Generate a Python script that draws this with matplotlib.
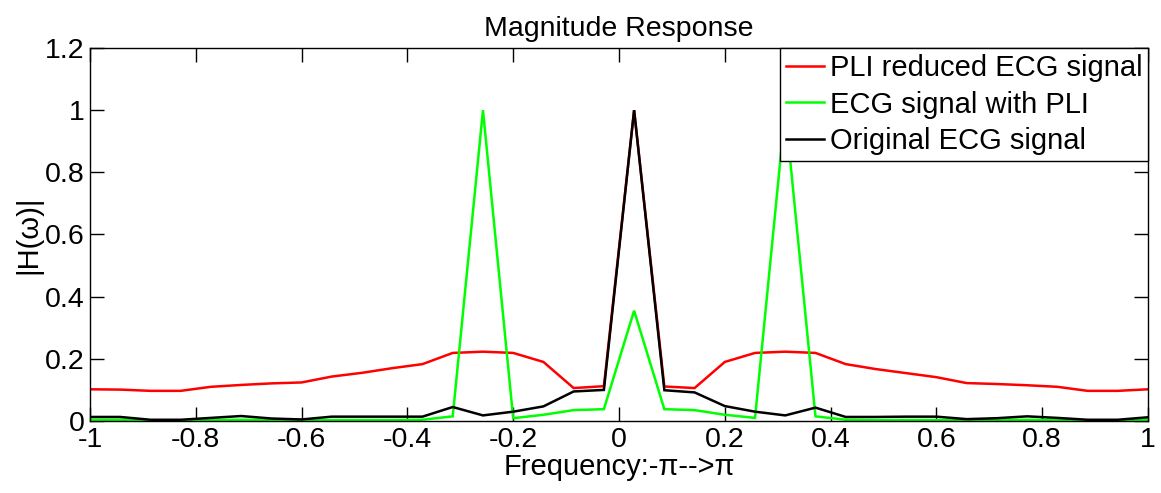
import numpy as np
import matplotlib
matplotlib.use("Agg")
import matplotlib.pyplot as plt

plt.rcParams['font.family'] = ['Liberation Sans', 'DejaVu Sans']

freq = np.linspace(-1, 1, 36)

pli_reduced = [0.102, 0.101, 0.097, 0.097, 0.110, 0.116, 0.121, 0.124, 0.143, 0.155,
               0.170, 0.183, 0.219, 0.223, 0.219, 0.190, 0.106, 0.112, 1.000, 0.111,
               0.106, 0.190, 0.219, 0.223, 0.219, 0.183, 0.167, 0.154, 0.141, 0.122,
               0.119, 0.115, 0.110, 0.097, 0.097, 0.102]

ecg_with_pli = [0.004, 0.004, 0.002, 0.002, 0.003, 0.004, 0.003, 0.002, 0.003, 0.003,
                0.003, 0.004, 0.015, 1.000, 0.009, 0.020, 0.035, 0.038, 0.355, 0.038,
                0.035, 0.020, 0.010, 1.000, 0.015, 0.004, 0.003, 0.003, 0.003, 0.002,
                0.003, 0.004, 0.003, 0.002, 0.002, 0.004]

original = [0.013, 0.013, 0.004, 0.004, 0.010, 0.016, 0.008, 0.005, 0.014, 0.014,
            0.014, 0.014, 0.045, 0.018, 0.030, 0.047, 0.095, 0.100, 1.000, 0.099,
            0.092, 0.048, 0.030, 0.018, 0.043, 0.013, 0.013, 0.014, 0.014, 0.006,
            0.009, 0.015, 0.010, 0.004, 0.004, 0.012]

labels = ['PLI reduced ECG signal', 'ECG signal with PLI', 'Original ECG signal']
colors = ['#ff0000', '#00ff00', '#000000']

xticks = [-1, -0.8, -0.6, -0.4, -0.2, 0, 0.2, 0.4, 0.6, 0.8, 1]
xticklabels = ['-1', '-0.8', '-0.6', '-0.4', '-0.2', '0', '0.2', '0.4', '0.6', '0.8', '1']
yticks = [0, 0.2, 0.4, 0.6, 0.8, 1.0, 1.2]
yticklabels = ['0', '0.2', '0.4', '0.6', '0.8', '1', '1.2']

fig = plt.figure(figsize=(11.61, 4.93), dpi=100)
ax = fig.add_axes([90/1161, 72/493, 1058/1161, 373/493])

for vals, lab, col in zip([pli_reduced, ecg_with_pli, original], labels, colors):
    ax.plot(freq, vals, color=col, lw=1.8, label=lab, solid_joinstyle='miter')

ax.set_xlim(-1, 1)
ax.set_ylim(0, 1.2)
ax.set_xticks(xticks)
ax.set_xticklabels(xticklabels)
ax.set_yticks(yticks)
ax.set_yticklabels(yticklabels)
ax.tick_params(direction='in', length=10, width=1, labelsize=20.5, top=True, right=True)
ax.tick_params(axis='x', pad=4)
ax.tick_params(axis='y', pad=4)
for s in ax.spines.values():
    s.set_linewidth(1)

ax.set_title('Magnitude Response', fontsize=20.5, pad=9)
ax.set_xlabel('Frequency:-\u03c0-->\u03c0', fontsize=21, labelpad=0)
ax.set_ylabel('|H(\u03c9)|', fontsize=21, labelpad=2)

leg = ax.legend(loc='upper right', borderaxespad=0, fancybox=False, framealpha=1,
                edgecolor='black', fontsize=21, handlelength=1.3, handletextpad=0.2,
                labelspacing=0.3, borderpad=0.2)
leg.get_frame().set_linewidth(1)

fig.savefig('out.png', dpi=100)
